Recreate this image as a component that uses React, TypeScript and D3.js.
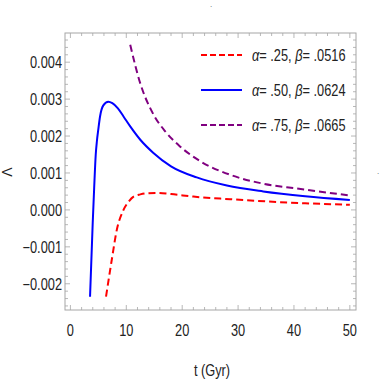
import React, { useEffect, useRef } from 'react';
import * as d3 from 'd3';

// alpha = .25, beta = .0516 (red, dashed)
const redT = [6.37, 7.4, 8.3, 9.5, 10.5, 11.3, 12.5, 13.6, 15.4, 18, 22, 28.6, 35, 42, 50];
const redV = [-0.00235, -0.00135, -0.00054, 0, 0.00024, 0.00036, 0.00042, 0.00045, 0.00046, 0.00043, 0.00036, 0.00029, 0.00023, 0.00018, 0.00014];

// alpha = .50, beta = .0624 (blue, solid)
const blueT = [3.51, 3.99, 4.25, 4.53, 4.75, 4.99, 5.3, 5.89, 6.78, 7.5, 8.5, 9.5, 10.7, 12.5, 14.8, 18, 22.6, 28, 34.5, 42, 50];
const blueV = [-0.00235, -0.00035, 0.0006, 0.0015, 0.00188, 0.00218, 0.00253, 0.00283, 0.00293, 0.00289, 0.00275, 0.00253, 0.00226, 0.0019, 0.00155, 0.00118, 0.00088, 0.00066, 0.0005, 0.00037, 0.00027];

// alpha = .75, beta = .0665 (purple, dashed)
const purpleT = [10.7, 12.45, 14.8, 17, 19.6, 23, 28.6, 34.5, 40.5, 46.4, 50];
const purpleV = [0.00447, 0.00345, 0.0026, 0.00212, 0.00172, 0.00134, 0.00095, 0.00071, 0.00058, 0.00046, 0.00039];

const xTicks = [0, 10, 20, 30, 40, 50];
const yTicks = [-0.002, -0.001, 0, 0.001, 0.002, 0.003, 0.004];

const series = [
  { t: redT, v: redV, color: '#ff0000', dash: '7,4', alpha: '.25', beta: '.0516' },
  { t: blueT, v: blueV, color: '#0000ff', dash: null, alpha: '.50', beta: '.0624' },
  { t: purpleT, v: purpleV, color: '#800080', dash: '7,4', alpha: '.75', beta: '.0665' },
];

const FONT = "'Liberation Sans', Arial, sans-serif";
const SQUEEZE = 0.8; // reference uses a condensed face

const App = () => {
  const svgRef = useRef<SVGSVGElement>(null);

  useEffect(() => {
    const svg = d3.select(svgRef.current);
    svg.selectAll('*').remove();

    const left = 65, right = 356, top = 33, bottom = 310;
    const x = d3.scaleLinear().domain([-0.97, 51.1]).range([left, right]);
    const y = d3.scaleLinear().domain([-0.00271, 0.00479]).range([bottom, top]);

    const frameColor = '#a6a6a6';

    // condensed text helper
    const label = (g, px, py, str, anchor = 'start', size = 16) =>
      g.append('text')
        .attr('transform', `translate(${px},${py}) scale(${SQUEEZE},1)`)
        .attr('text-anchor', anchor)
        .style('font-family', FONT).style('font-size', size + 'px')
        .attr('fill', '#222')
        .text(str);

    svg.append('defs').append('clipPath').attr('id', 'plotclip')
      .append('rect').attr('x', left).attr('y', top)
      .attr('width', right - left).attr('height', bottom - top);

    // frame
    svg.append('rect')
      .attr('x', left).attr('y', top)
      .attr('width', right - left).attr('height', bottom - top)
      .attr('fill', 'none').attr('stroke', frameColor).attr('stroke-width', 1);

    const ticks = svg.append('g').attr('stroke', frameColor).attr('stroke-width', 0.8);

    d3.range(0, 51, 2).forEach(t => {
      const len = t % 10 === 0 ? 5 : 3;
      const px = x(t);
      ticks.append('line').attr('x1', px).attr('x2', px).attr('y1', bottom).attr('y2', bottom - len);
      ticks.append('line').attr('x1', px).attr('x2', px).attr('y1', top).attr('y2', top + len);
    });

    d3.range(-13, 24).map(i => i * 0.0002).forEach(v => {
      const major = Math.abs(Math.round(v * 1000) - v * 1000) < 1e-6;
      const len = major ? 5 : 3;
      const py = y(v);
      ticks.append('line').attr('x1', left).attr('x2', left + len).attr('y1', py).attr('y2', py);
      ticks.append('line').attr('x1', right).attr('x2', right - len).attr('y1', py).attr('y2', py);
    });

    // tick labels
    const tl = svg.append('g');
    xTicks.forEach(d => label(tl, x(d), 336, String(d), 'middle'));
    yTicks.forEach(d =>
      label(tl, 62, y(d) + 5.8, (d < 0 ? '\u2212' : '') + d3.format('.3f')(Math.abs(d)), 'end'));

    // axis labels
    label(svg, 212, 376, 't (Gyr)', 'middle');
    svg.append('text')
      .attr('transform', 'translate(12,172) rotate(-90)')
      .attr('text-anchor', 'middle')
      .style('font-family', FONT).style('font-size', '14px').attr('fill', '#222')
      .text('Λ');

    // stray dots from the original
    svg.append('text').attr('x', 211).attr('y', 7).attr('text-anchor', 'middle')
      .style('font-family', FONT).style('font-size', '8px').attr('fill', '#555').text('.');
    svg.append('text').attr('x', 378).attr('y', 174).attr('text-anchor', 'middle')
      .style('font-family', FONT).style('font-size', '8px').attr('fill', '#555').text('.');

    // curves
    const line = d3.line<[number, number]>()
      .x(d => x(d[0])).y(d => y(d[1]))
      .curve(d3.curveMonotoneX);

    const plot = svg.append('g').attr('clip-path', 'url(#plotclip)');
    series.forEach(s => {
      const pts: [number, number][] = s.t.map((t, i) => [t, s.v[i]]);
      plot.append('path')
        .datum(pts)
        .attr('d', line)
        .attr('fill', 'none')
        .attr('stroke', s.color)
        .attr('stroke-width', 2)
        .attr('stroke-dasharray', s.dash);
    });

    // legend
    const legend = svg.append('g');
    series.forEach((s, i) => {
      const ly = 55 + i * 35;
      legend.append('line')
        .attr('x1', 201).attr('x2', 242).attr('y1', ly).attr('y2', ly)
        .attr('stroke', s.color).attr('stroke-width', 2)
        .attr('stroke-dasharray', s.dash ? '6,3' : null);
      const txt = label(legend, 252, ly + 5.8, '');
      txt.append('tspan').style('font-style', 'italic').text('α');
      txt.append('tspan').text(`= ${s.alpha}, `);
      txt.append('tspan').style('font-style', 'italic').text('β');
      txt.append('tspan').text(`= ${s.beta}`);
    });
  }, []);

  return (
    <div style={{ position: 'absolute', left: 0, top: 0 }}>
      <svg ref={svgRef} width={382} height={382} style={{ display: 'block', background: '#fff' }} />
    </div>
  );
};

export default App;
